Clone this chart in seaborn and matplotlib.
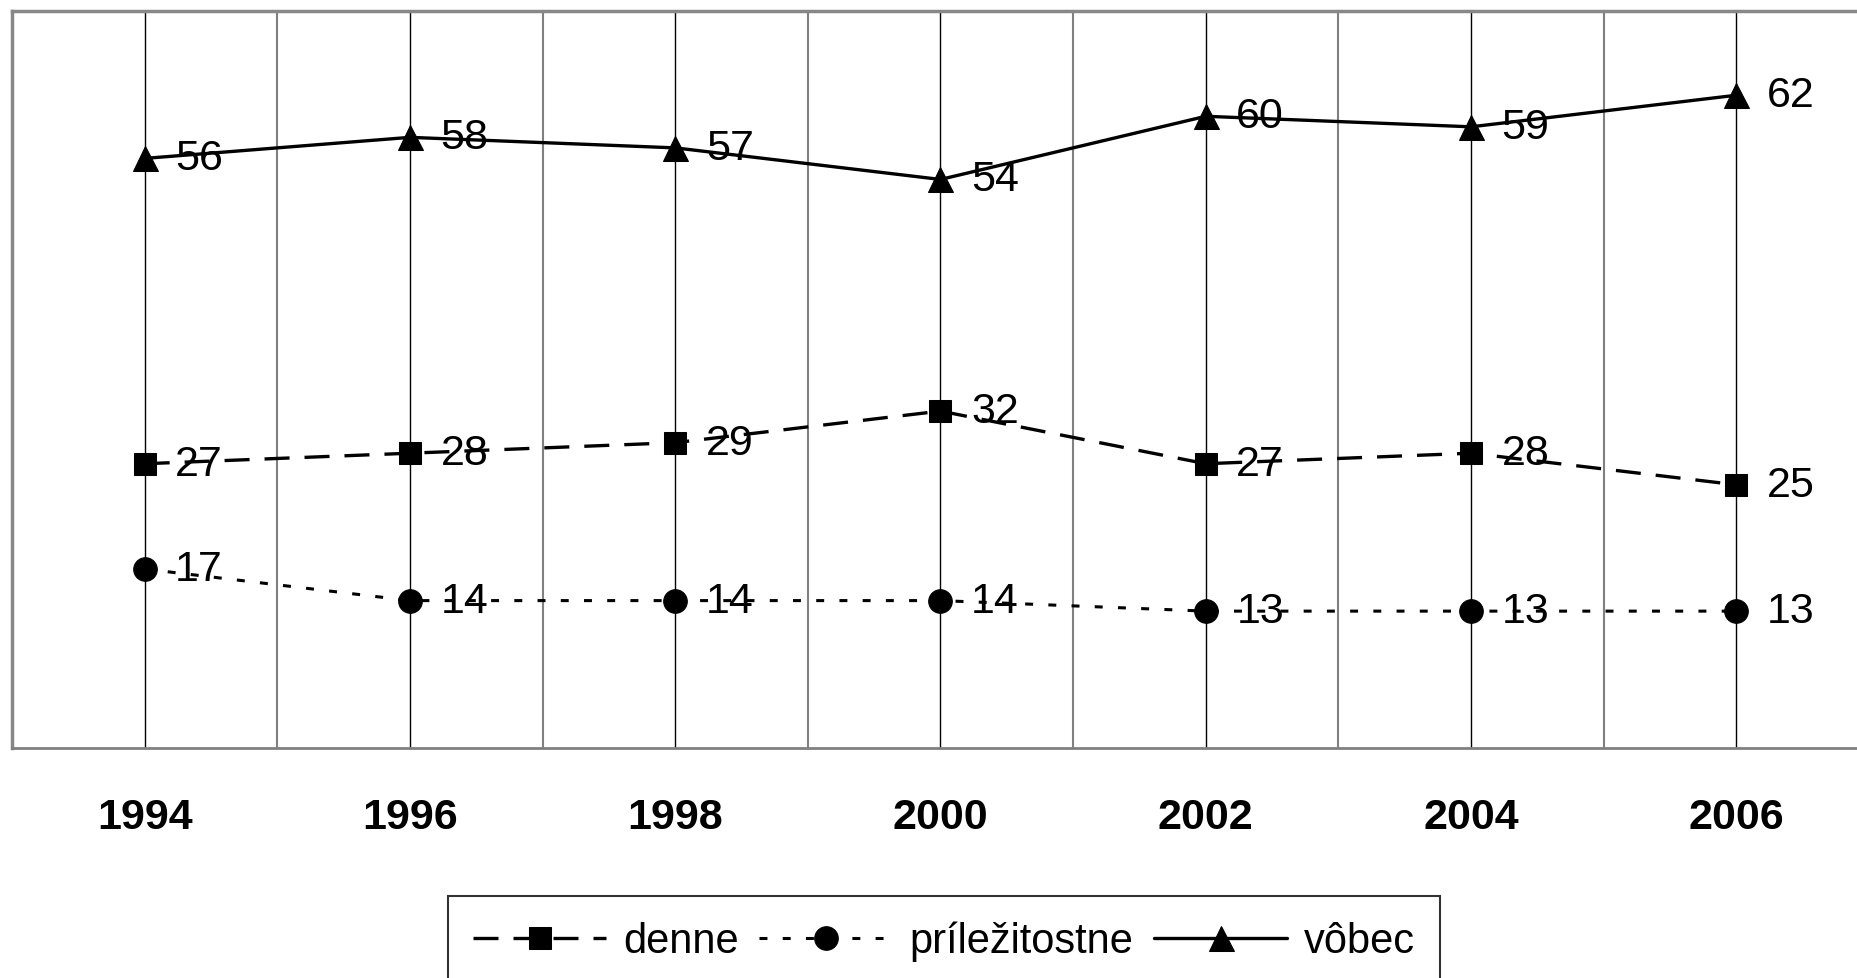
import matplotlib
matplotlib.use("Agg")
import matplotlib.pyplot as plt
import seaborn as sns
import pandas as pd
import numpy as np

years = ["1994", "1996", "1998", "2000", "2002", "2004", "2006"]
denne = [27, 28, 29, 32, 27, 28, 25]
prilezitostne = [17, 14, 14, 14, 13, 13, 13]
vobec = [56, 58, 57, 54, 60, 59, 62]
series_names = ["denne", "príležitostne", "vôbec"]

sns.set_style("white")
plt.rcParams['font.family'] = ['Liberation Sans', 'DejaVu Sans']
plt.rcParams['text.color'] = 'black'
plt.rcParams['xtick.color'] = 'black'
plt.rcParams['xtick.labelcolor'] = 'black'

W, H = 1858, 979
fig = plt.figure(figsize=(W / 100, H / 100), dpi=100)
ax = fig.add_axes([12 / W, (H - 749) / H, (1869 - 12) / W, (749 - 12) / H])

x = np.arange(len(years))
styles = [
    dict(linestyle=(0, (7.5, 4.5)), marker="s", markersize=16, linewidth=2.4),
    dict(linestyle=(0, (2.6, 5.0)), marker="o", markersize=17, linewidth=2.2),
    dict(linestyle="-", marker="^", markersize=18, linewidth=2.4),
]
for name, vals, st in zip(series_names, [denne, prilezitostne, vobec], styles):
    df = pd.DataFrame({"x": x, "y": vals})
    sns.lineplot(data=df, x="x", y="y", ax=ax, color="black", label=name,
                 markeredgecolor="black", markerfacecolor="black",
                 errorbar=None, zorder=3, **st)
    for xi, v in zip(x, vals):
        ax.annotate(str(v), (xi, v), xytext=(22, 0), textcoords="offset points",
                    ha="left", va="center", fontsize=31, color="black", zorder=4)

ax.set_xlim(-0.5, 6.5)
ax.set_ylim(0, 70)
ax.set_xticks(x)
ax.set_xticklabels(years, fontsize=31, fontweight="bold", color="black")
ax.set_xticks(np.arange(-0.5, 7, 1.0), minor=True)
ax.tick_params(axis="x", which="major", length=0, pad=35)
ax.tick_params(axis="x", which="minor", length=10, width=1.5, color="#808080", direction="out")
ax.set_yticks([])
ax.set_xlabel("")
ax.set_ylabel("")
ax.grid(False)
ax.xaxis.grid(True, which="major", color="black", linewidth=1.0, zorder=1)
ax.xaxis.grid(True, which="minor", color="#808080", linewidth=1.5, zorder=1)
ax.set_axisbelow(True)
for side in ["left", "top"]:
    ax.spines[side].set_color("#888888")
    ax.spines[side].set_linewidth(2.5)
ax.spines["bottom"].set_color("#808080")
ax.spines["bottom"].set_linewidth(2.0)
ax.spines["right"].set_visible(False)

leg = ax.legend(loc="upper left", bbox_to_anchor=(448 / W, 1 - 897 / H),
                bbox_transform=fig.transFigure, borderaxespad=0, ncol=3,
                fontsize=30, frameon=True, fancybox=False, handlelength=3.2,
                handletextpad=0.4, columnspacing=0.5, borderpad=0.6)
leg.get_frame().set_edgecolor("black")
leg.get_frame().set_linewidth(1.5)
for t in leg.get_texts():
    t.set_color("black")

fig.savefig("out.png", dpi=100)
